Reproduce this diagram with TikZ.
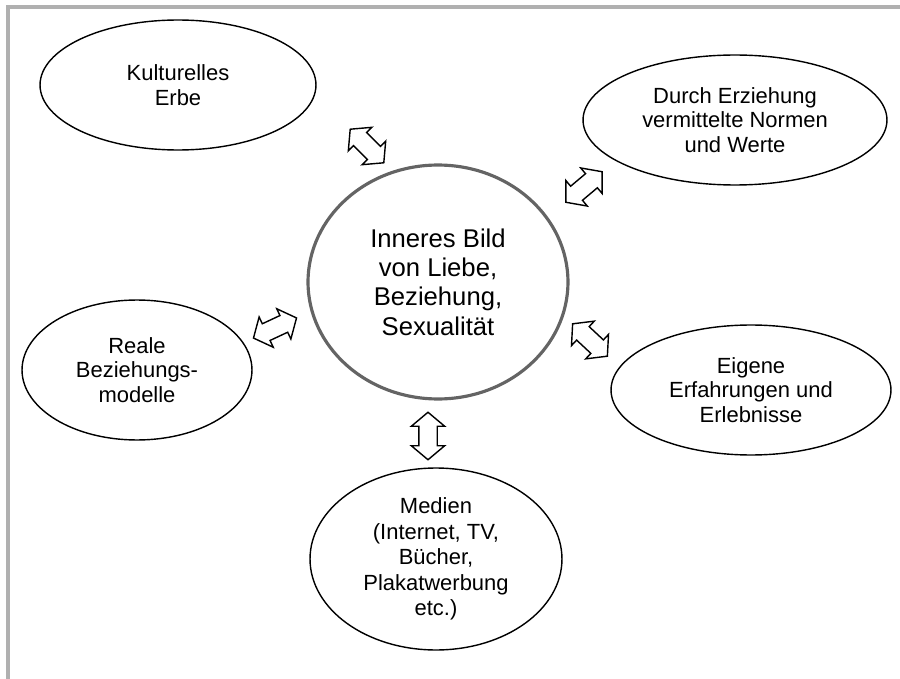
\documentclass[tikz,border=0pt]{standalone}
\usepackage{fontspec}
\setmainfont{Liberation Sans}
\usepackage{tikz}
\usetikzlibrary{shapes,shapes.arrows}
\definecolor{rahmengrau}{RGB}{176,176,176}
\definecolor{kreisgrau}{RGB}{100,100,100}
\tikzstyle{einfluss}=[ellipse,draw,line width=0.8pt,inner sep=0pt,align=center,font=\fontsize{12.5}{14}\selectfont]
\tikzstyle{bild}=[einfluss,draw=kreisgrau,line width=1.8pt,font=\fontsize{14.6}{16.7}\selectfont]
\tikzstyle{wechsel}=[double arrow,draw,fill=white,line width=0.8pt,minimum height=0.95cm,minimum width=0.64cm,inner xsep=0pt,inner ysep=0.17cm,double arrow head extend=0.15cm,double arrow tip angle=100]

\begin{document}
\begin{tikzpicture}[x=0.02cm,y=-0.02cm]
        \useasboundingbox (0,0) rectangle (900,679);
        \draw[rahmengrau,line width=2.3pt] (8,679) -- (8,7) -- (900,7);
        % mitte
        \node[bild,minimum width=5.2cm,minimum height=4.68cm] (innen) at (438,282) {Inneres Bild\\von Liebe,\\Beziehung,\\Sexualit\"at};
        % einfluesse
        \node[einfluss,minimum width=5.52cm,minimum height=2.6cm] (kultur) at (178,85) {Kulturelles\\Erbe};
        \node[einfluss,minimum width=6.08cm,minimum height=2.6cm] (erziehung) at (735,120) {Durch Erziehung\\vermittelte Normen\\und Werte};
        \node[einfluss,minimum width=4.6cm,minimum height=2.8cm] (modelle) at (137,370) {Reale\\Beziehungs-\\modelle};
        \node[einfluss,minimum width=5.6cm,minimum height=2.6cm] (erfahrung) at (751,390) {Eigene\\Erfahrungen und\\Erlebnisse};
        \node[einfluss,minimum width=5.04cm,minimum height=3.64cm,font=\fontsize{12.5}{14.6}\selectfont] (medien) at (436,559) {Medien\\(Internet, TV,\\B\"ucher,\\Plakatwerbung\\etc.)};
        % pfeile
        \node[wechsel,rotate=-45] (p-kultur) at (367,146) {};
        \node[wechsel,rotate=40] (p-erziehung) at (584,187) {};
        \node[wechsel,rotate=25] (p-modelle) at (275,328) {};
        \node[wechsel,rotate=-43] (p-erfahrung) at (590,340) {};
        \node[wechsel,rotate=90] (p-medien) at (428,436) {};
\end{tikzpicture}
\end{document}
